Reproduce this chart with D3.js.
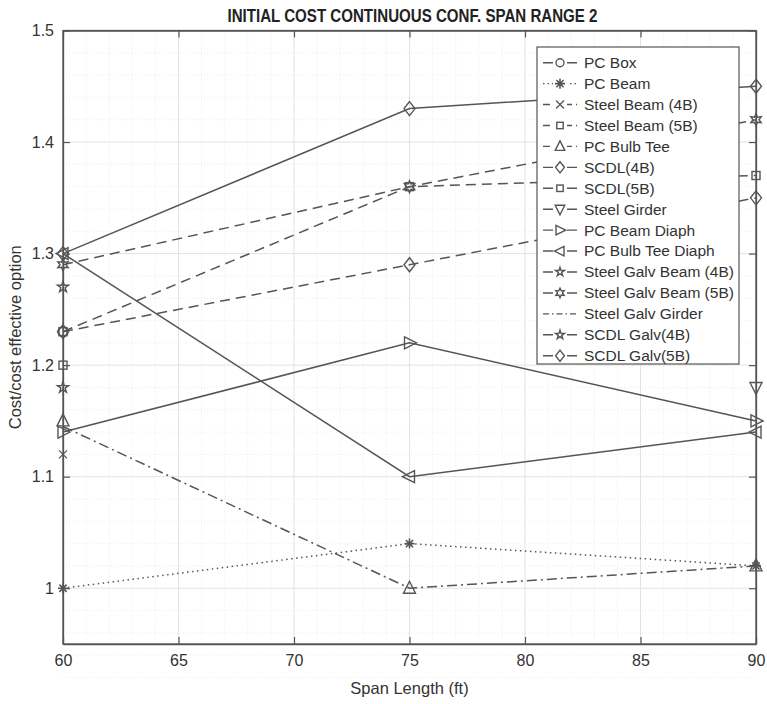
<!DOCTYPE html>
<html><head><meta charset="utf-8">
<script src="https://cdn.jsdelivr.net/npm/d3@7"></script>
<style>
html,body{margin:0;padding:0;background:#fff;}
svg{display:block;font-family:"Liberation Sans",Arial,sans-serif;}
</style></head>
<body><svg id="c" width="767" height="704"></svg>
<script>
// ---------- data ----------
const spans = [60, 75, 90];
const xTicks = [60, 65, 70, 75, 80, 85, 90];
const yTicks = [1, 1.1, 1.2, 1.3, 1.4, 1.5];
const seriesNames = ["PC Box","PC Beam","Steel Beam (4B)","Steel Beam (5B)","PC Bulb Tee","SCDL(4B)","SCDL(5B)","Steel Girder","PC Beam Diaph","PC Bulb Tee Diaph","Steel Galv Beam (4B)","Steel Galv Beam (5B)","Steel Galv Girder","SCDL Galv(4B)","SCDL Galv(5B)"];
const pcBox          = [1.23, null, null];
const pcBeam         = [1.00, 1.04, 1.02];
const steelBeam4B    = [1.12, null, null];
const steelBeam5B    = [1.23, 1.36, 1.37];
const pcBulbTee      = [1.15, 1.00, 1.02];
const scdl4B         = [1.30, 1.43, 1.45];
const scdl5B         = [1.20, null, null];
const steelGirder    = [null, null, 1.18];
const pcBeamDiaph    = [1.14, 1.22, 1.15];
const pcBulbTeeDiaph = [1.30, 1.10, 1.14];
const steelGalvBeam4B= [1.27, null, null];
const steelGalvBeam5B= [1.29, 1.36, 1.42];
const steelGalvGirder= [1.145, 1.00, 1.02];
const scdlGalv4B     = [1.18, null, null];
const scdlGalv5B     = [1.23, 1.29, 1.35];
const seriesValues = [pcBox,pcBeam,steelBeam4B,steelBeam5B,pcBulbTee,scdl4B,scdl5B,steelGirder,pcBeamDiaph,pcBulbTeeDiaph,steelGalvBeam4B,steelGalvBeam5B,steelGalvGirder,scdlGalv4B,scdlGalv5B];

// ---------- styles ----------
const markers = ["circle","asterisk","x","square","tri-up","diamond","square","tri-down","tri-right","tri-left","pentagram","hexagram","none","pentagram","diamond"];
const dashes  = ["none","1.5,3.5","10,6","10,6","none","none","none","none","none","none","none","10,6","10,4,2,4","none","10,6"];
const legendDashes = ["none","1.5,3","7,4","7,4","7,4","none","none","none","none","none","none","none","6,3,1.5,3","none","none"];

const W = 767, H = 704;
const m = {l:63, r:756, t:30.5, b:644};
const col = "#555", txt = "#333";
const svg = d3.select("#c");
const x = d3.scaleLinear().domain([60,90]).range([m.l,m.r]);
const y = d3.scaleLinear().domain([0.95,1.5]).range([m.b,m.t]);

// grid minor
const g = svg.append("g");
g.selectAll(".vmin").data(d3.range(61,90,1).filter(v=>v%5)).enter().append("line")
 .attr("x1",d=>x(d)).attr("x2",d=>x(d)).attr("y1",m.t).attr("y2",m.b)
 .attr("stroke","#e6e6e6").attr("stroke-width",0.8).attr("stroke-dasharray","1,2");
g.selectAll(".hmin").data(d3.range(48,150,2).filter(v=>v%10).map(v=>v/100)).enter().append("line")
 .attr("x1",m.l).attr("x2",m.r).attr("y1",d=>y(d)).attr("y2",d=>y(d))
 .attr("stroke","#e8e8e8").attr("stroke-width",0.8).attr("stroke-dasharray","1,2");
// grid major
g.selectAll(".vmaj").data(xTicks).enter().append("line")
 .attr("x1",d=>x(d)).attr("x2",d=>x(d)).attr("y1",m.t).attr("y2",m.b)
 .attr("stroke","#e2e2e2").attr("stroke-width",1);
g.selectAll(".hmaj").data(yTicks).enter().append("line")
 .attr("x1",m.l).attr("x2",m.r).attr("y1",d=>y(d)).attr("y2",d=>y(d))
 .attr("stroke","#e2e2e2").attr("stroke-width",1);

// axes
const fmt = d => (d===1?"1":d3.format(".1f")(d));
const xb = svg.append("g").attr("transform",`translate(0,${m.b})`)
 .call(d3.axisBottom(x).tickValues(xTicks).tickSizeInner(-7).tickSizeOuter(0).tickPadding(11));
const xt = svg.append("g").attr("transform",`translate(0,${m.t})`)
 .call(d3.axisTop(x).tickValues(xTicks).tickSizeInner(-7).tickSizeOuter(0).tickFormat(""));
const yl = svg.append("g").attr("transform",`translate(${m.l},0)`)
 .call(d3.axisLeft(y).tickValues(yTicks).tickSizeInner(-7).tickSizeOuter(0).tickPadding(9).tickFormat(fmt));
const yr = svg.append("g").attr("transform",`translate(${m.r},0)`)
 .call(d3.axisRight(y).tickValues(yTicks).tickSizeInner(-7).tickSizeOuter(0).tickFormat(""));
[xb,xt,yl,yr].forEach(a=>{
  a.select(".domain").attr("stroke",col).attr("stroke-width",1.3);
  a.selectAll(".tick line").attr("stroke",col).attr("stroke-width",1.2);
  a.selectAll(".tick text").attr("fill",txt).attr("font-size",16).attr("font-family","Liberation Sans, Arial, sans-serif");
});
svg.append("rect").attr("x",m.l).attr("y",m.t).attr("width",m.r-m.l).attr("height",m.b-m.t)
 .attr("fill","none").attr("stroke",col).attr("stroke-width",1.3);

// marker drawing
function drawMarker(sel, type, cx, cy, s){
  const gg = sel.append("g").attr("transform",`translate(${cx},${cy})`)
    .attr("fill","none").attr("stroke",col).attr("stroke-width",1.4);
  const k = s||1;
  switch(type){
    case "circle": gg.append("circle").attr("r",5*k); break;
    case "square": gg.append("rect").attr("x",-4*k).attr("y",-4*k).attr("width",8*k).attr("height",8*k); break;
    case "diamond": gg.append("path").attr("d",`M0,${-7*k}L${5.5*k},0L0,${7*k}L${-5.5*k},0Z`); break;
    case "tri-up": gg.append("path").attr("d",`M0,${-7*k}L${6*k},${5*k}L${-6*k},${5*k}Z`); break;
    case "tri-down": gg.append("path").attr("d",`M0,${7*k}L${6*k},${-5*k}L${-6*k},${-5*k}Z`); break;
    case "tri-right": gg.append("path").attr("d",`M${7*k},0L${-5*k},${-6*k}L${-5*k},${6*k}Z`); break;
    case "tri-left": gg.append("path").attr("d",`M${-7*k},0L${5*k},${-6*k}L${5*k},${6*k}Z`); break;
    case "x": gg.append("path").attr("d",`M-4,-4L4,4M-4,4L4,-4`).attr("stroke-width",1.3); break;
    case "asterisk": gg.append("path").attr("d",`M-5,0L5,0M0,-5L0,5M-3.6,-3.6L3.6,3.6M-3.6,3.6L3.6,-3.6`).attr("stroke-width",1.6); break;
    case "pentagram": gg.append("path").attr("d",d3.symbol(d3.symbolStar, 38*k*k)()); break;
    case "hexagram": {
      const pts=[]; for(let i=0;i<12;i++){const r=i%2?3:6; const a=Math.PI/6*i - Math.PI/2; pts.push([r*Math.cos(a)*k, r*Math.sin(a)*k]);}
      gg.append("path").attr("d","M"+pts.map(p=>p.join(",")).join("L")+"Z"); break; }
  }
}

// lines
const line = d3.line().defined(d=>d[1]!=null).x(d=>x(d[0])).y(d=>y(d[1]));
const plot = svg.append("g");
seriesValues.forEach((vals,i)=>{
  if(seriesNames[i]==="PC Bulb Tee") return; // shares its path with the dash-dot line
  const pts = spans.map((s,j)=>[s,vals[j]]);
  plot.append("path").datum(pts).attr("d",line).attr("fill","none")
    .attr("stroke",col).attr("stroke-width",1.5)
    .attr("stroke-dasharray",dashes[i]==="none"?null:dashes[i]);
});
seriesValues.forEach((vals,i)=>{
  if(markers[i]==="none") return;
  spans.forEach((s,j)=>{ if(vals[j]!=null) drawMarker(plot, markers[i], x(s), y(vals[j])); });
});

// legend
const lg = svg.append("g");
const L = {x:537, y:47, w:202, h:317, row:20.93, first:62.7};
lg.append("rect").attr("x",L.x).attr("y",L.y).attr("width",L.w).attr("height",L.h)
  .attr("fill","#fff").attr("stroke",col).attr("stroke-width",1.2);
seriesNames.forEach((n,i)=>{
  const cy = L.first + i*L.row;
  lg.append("line").attr("x1",543).attr("x2",577).attr("y1",cy).attr("y2",cy)
    .attr("stroke",col).attr("stroke-width",1.4)
    .attr("stroke-dasharray",legendDashes[i]==="none"?null:legendDashes[i]);
  if(markers[i]!=="none"){
    lg.append("rect").attr("x",553).attr("y",cy-5).attr("width",14).attr("height",10).attr("fill","#fff");
    drawMarker(lg, markers[i], 560, cy, 0.8);
  }
  lg.append("text").attr("x",584).attr("y",cy).attr("dy","0.35em").attr("font-size",15.5)
    .attr("fill",txt).text(n);
});

// titles
svg.append("text").attr("x",(m.l+m.r)/2+3).attr("y",22).attr("text-anchor","middle")
  .attr("font-size",17.5).attr("font-weight","bold").attr("fill","#222")
  .attr("textLength",370).attr("lengthAdjust","spacingAndGlyphs")
  .text("INITIAL COST CONTINUOUS CONF. SPAN RANGE 2");
svg.append("text").attr("x",(m.l+m.r)/2).attr("y",694).attr("text-anchor","middle")
  .attr("font-size",16.5).attr("fill",txt).text("Span Length (ft)");
svg.append("text").attr("transform",`translate(21,${(m.t+m.b)/2}) rotate(-90)`).attr("text-anchor","middle")
  .attr("font-size",16.5).attr("fill",txt).text("Cost/cost effective option");
</script></body></html>
